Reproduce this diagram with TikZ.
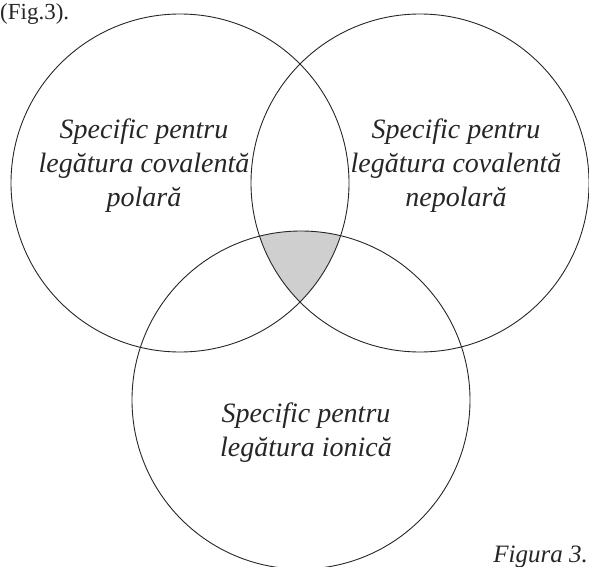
\documentclass[tikz,border=0pt]{standalone}
\usepackage{fontspec}
\setmainfont{Liberation Serif}
\begin{document}
\begin{tikzpicture}[x=1pt,y=-1pt,
  ring/.style={circle,draw=black!85,line width=0.9pt,minimum size=338pt,inner sep=0pt},
  label/.style={font=\fontsize{28}{34}\selectfont\itshape,align=center,text=black!85}]
\useasboundingbox (0,0) rectangle (589,567);
% common region of the three sets
\begin{scope}
  \clip (180,183) circle[radius=169];
  \clip (420,183) circle[radius=169];
  \fill[black!19] (301,400) circle[radius=169];
\end{scope}
\node[ring] (polar) at (180,183) {};
\node[ring] (nepolar) at (420,183) {};
\node[ring] (ionic) at (301,400) {};
\node[label] (tpolar) at (144,166) {Specific pentru\\legătura covalentă\\polară};
\node[label] (tnepolar) at (456,166) {Specific pentru\\legătura covalentă\\nepolară};
\node[label] (tionic) at (306,433) {Specific pentru\\legătura ionică};
\node[anchor=base west,font=\fontsize{23}{26}\selectfont,text=black!85,inner sep=0pt] (ref) at (0,20) {(Fig.3).};
\node[anchor=base east,font=\fontsize{25}{28}\selectfont\itshape,text=black!85,inner sep=0pt] (cap) at (588,562) {Figura 3.};
\end{tikzpicture}
\end{document}
